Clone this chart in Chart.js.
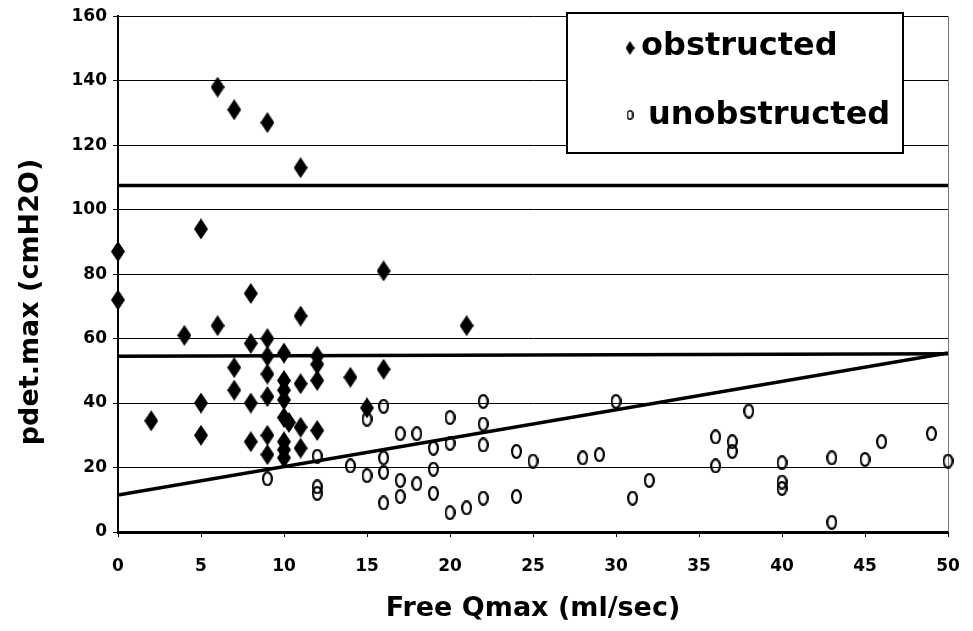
<!DOCTYPE html>
<html>
<head>
<meta charset="utf-8">
<script src="https://cdn.jsdelivr.net/npm/chart.js@4.4.0/dist/chart.umd.min.js"></script>
<style>
  body { margin: 0; background: #fff; }
  canvas { display: block; }
</style>
</head>
<body>
<canvas id="qmaxChart" width="973" height="631"></canvas>
<script>
// obstructed (diamonds)
const obstructedX = [0, 0, 2, 4, 5, 5, 5, 6, 6, 7, 7, 7, 8, 8, 8, 8, 9, 9, 9, 9, 9, 9, 9,
    10, 10, 10, 10, 10, 10.3, 10, 10, 10, 11, 11, 11, 11, 11, 12, 12, 12, 12, 14, 15, 16, 16, 21];
const obstructedY = [87, 72, 34.5, 61, 94, 40, 30, 138, 64, 131, 51, 44, 74, 58.5, 40, 28, 127, 60, 54.5, 49, 42, 30, 24,
    55.5, 47, 44, 41, 35.5, 34, 28, 25.5, 23, 113, 67, 46, 32.5, 26, 54.5, 52, 47, 31.5, 48, 38.5, 81, 50.5, 64];

// unobstructed (open circles)
const unobstructedX = [9, 12, 12, 12, 14, 15, 16, 15, 16, 16, 16, 17, 17, 17, 18, 18, 19, 19, 19, 20, 20, 20, 21,
    22, 22, 22, 22, 24, 24, 25, 28, 29, 30, 31, 32, 36, 36, 37, 37, 38, 40, 40, 40, 43, 43, 45, 46, 49, 50];
const unobstructedY = [16.5, 23.5, 14, 12, 20.5, 35, 39, 17.5, 23, 18.5, 9, 30.5, 16, 11, 30.5, 15, 26, 19.5, 12, 35.5, 27.5, 6, 7.5,
    40.5, 33.5, 27, 10.5, 25, 11, 22, 23, 24, 40.5, 10.5, 16, 29.5, 20.5, 25, 28, 37.5, 21.5, 15.5, 13.5, 23, 3, 22.5, 28, 30.5, 22];

// reference lines
const lineX = [0, 50];
const upperLineY = [107.5, 107.5];
const middleLineY = [54.5, 55.3];
const trendLineY = [11.5, 55.5];

const xTicks = [0, 5, 10, 15, 20, 25, 30, 35, 40, 45, 50];
const yTicks = [0, 20, 40, 60, 80, 100, 120, 140, 160];

function toPoints(xs, ys) {
    return xs.map(function(x, i) { return { x: x, y: ys[i] }; });
}

function diamondImg(w, h) {
    const c = document.createElement('canvas');
    c.width = w; c.height = h;
    const g = c.getContext('2d');
    g.fillStyle = '#000';
    g.beginPath();
    g.moveTo(w / 2, 0); g.lineTo(w, h / 2); g.lineTo(w / 2, h); g.lineTo(0, h / 2);
    g.closePath();
    g.fill();
    return c;
}

function ringImg(w, h, lw) {
    const c = document.createElement('canvas');
    c.width = w; c.height = h;
    const g = c.getContext('2d');
    g.strokeStyle = '#000';
    g.lineWidth = lw;
    g.beginPath();
    g.ellipse(w / 2, h / 2, w / 2 - lw / 2, h / 2 - lw / 2, 0, 0, 2 * Math.PI);
    g.stroke();
    return c;
}

const bigDiamond = diamondImg(14, 21);
const bigRing = ringImg(11, 15, 2.2);
const smallDiamond = diamondImg(9, 14);
const smallRing = ringImg(7, 10, 1.6);

const FONT = "'DejaVu Sans', sans-serif";

// legend box, y title and right border
const decorPlugin = {
    id: 'decor',
    beforeDatasetsDraw: function(chart) {
        const ctx = chart.ctx, a = chart.chartArea;
        ctx.save();
        ctx.strokeStyle = '#777';
        ctx.lineWidth = 1;
        ctx.beginPath();
        ctx.moveTo(a.right + 0.5, a.top);
        ctx.lineTo(a.right + 0.5, a.bottom);
        ctx.stroke();
        ctx.restore();
    },
    afterDraw: function(chart) {
        const ctx = chart.ctx;
        ctx.save();
        // legend
        ctx.fillStyle = '#fff';
        ctx.fillRect(567, 13, 336, 140);
        ctx.strokeStyle = '#000';
        ctx.lineWidth = 2;
        ctx.strokeRect(567, 13, 336, 140);
        ctx.drawImage(smallDiamond, 630 - smallDiamond.width / 2, 48 - smallDiamond.height / 2);
        ctx.drawImage(smallRing, 630 - smallRing.width / 2, 115 - smallRing.height / 2);
        ctx.fillStyle = '#000';
        ctx.font = 'bold 32px ' + FONT;
        ctx.textBaseline = 'alphabetic';
        ctx.fillText(chart.data.datasets[0].label, 641, 55);
        ctx.fillText(chart.data.datasets[1].label, 648, 124);
        // y axis title
        ctx.translate(31, 302);
        ctx.rotate(-Math.PI / 2);
        ctx.font = 'bold 27px ' + FONT;
        ctx.textAlign = 'center';
        ctx.textBaseline = 'middle';
        ctx.fillText('pdet.max (cmH2O)', 0, 0);
        ctx.restore();
    }
};

new Chart(document.getElementById('qmaxChart').getContext('2d'), {
    type: 'scatter',
    data: {
        datasets: [{
            label: 'obstructed',
            data: toPoints(obstructedX, obstructedY),
            pointStyle: bigDiamond,
            order: 0,
            clip: false
        }, {
            label: 'unobstructed',
            data: toPoints(unobstructedX, unobstructedY),
            pointStyle: bigRing,
            order: 1,
            clip: false
        }, {
            type: 'line',
            label: 'upper',
            data: toPoints(lineX, upperLineY),
            borderColor: '#000', borderWidth: 3.5, pointRadius: 0, order: 2
        }, {
            type: 'line',
            label: 'middle',
            data: toPoints(lineX, middleLineY),
            borderColor: '#000', borderWidth: 3.5, pointRadius: 0, order: 2
        }, {
            type: 'line',
            label: 'trend',
            data: toPoints(lineX, trendLineY),
            borderColor: '#000', borderWidth: 3.5, pointRadius: 0, order: 2
        }]
    },
    options: {
        responsive: false,
        animation: false,
        layout: { padding: { top: 12, right: 25, left: 0, bottom: 0 } },
        plugins: {
            legend: { display: false },
            tooltip: { enabled: false }
        },
        scales: {
            x: {
                type: 'linear',
                min: 0, max: 50,
                afterFit: function(s) { s.height = 99; s.paddingLeft = 0; s.paddingRight = 0; },
                afterBuildTicks: function(s) { s.ticks = xTicks.map(function(v) { return { value: v }; }); },
                ticks: { color: '#000', padding: 19, font: { family: FONT, size: 17, weight: 'bold' } },
                grid: { drawOnChartArea: false, drawTicks: true, tickLength: 5, color: '#000' },
                border: { display: true, color: '#000', width: 3 },
                title: {
                    display: true,
                    text: 'Free Qmax (ml/sec)',
                    color: '#000',
                    font: { family: FONT, size: 27, weight: 'bold' },
                    padding: { top: 0, bottom: 6 }
                }
            },
            y: {
                min: 0, max: 160,
                afterFit: function(s) { s.width = 118; },
                afterBuildTicks: function(s) { s.ticks = yTicks.map(function(v) { return { value: v }; }); },
                ticks: { color: '#000', padding: 6, font: { family: FONT, size: 17, weight: 'bold' } },
                grid: { color: '#000', lineWidth: 1, tickLength: 5 },
                border: { display: true, color: '#000', width: 2 }
            }
        }
    },
    plugins: [decorPlugin]
});
</script>
</body>
</html>
